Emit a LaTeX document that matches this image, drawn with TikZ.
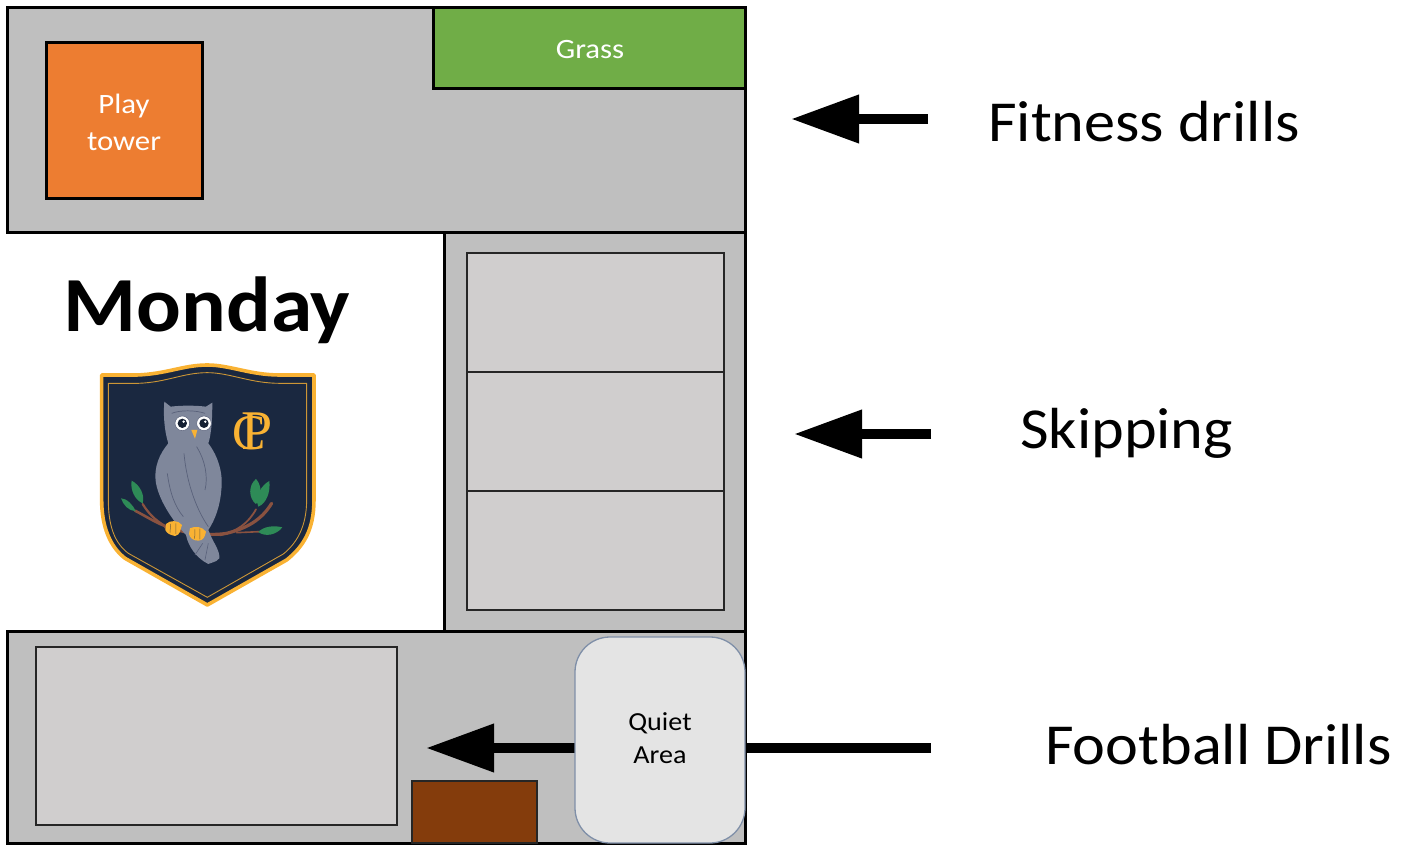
\documentclass[tikz,border=0pt]{standalone}
\usepackage{fontspec}
\setmainfont{Carlito}
\newfontfamily\wideface[FakeStretch=1.073]{Carlito}
\newfontfamily\wideboldface[FakeStretch=1.07]{Carlito Bold}
\newfontfamily\mapface[FakeStretch=1.1]{Carlito}
\newfontfamily\quietface[FakeStretch=1.08]{Carlito}
\newfontfamily\monoface{Liberation Serif}
\usetikzlibrary{arrows.meta}
\definecolor{yard}{HTML}{BFBFBF}
\definecolor{court}{HTML}{D0CECE}
\definecolor{grassc}{HTML}{70AD47}
\definecolor{towerc}{HTML}{ED7D31}
\definecolor{brownc}{HTML}{843C0C}
\definecolor{navy}{HTML}{1A2840}
\definecolor{gold}{HTML}{F9B233}
\definecolor{owlc}{HTML}{7F879B}
\definecolor{owld}{HTML}{59617A}
\definecolor{leaf}{HTML}{2E8B57}
\definecolor{twig}{HTML}{8A5240}
\definecolor{quietedge}{HTML}{7F8FA8}
\tikzset{
  x=1pt,y=-1pt,
  courtbox/.style={draw=black!85,line width=1.5pt,fill=court},
  callout/.style={font=\wideface\fontsize{58}{60}\selectfont,anchor=base west,inner sep=0pt},
  bigarrow/.style={line width=10.5pt,-{Triangle[length=68pt,width=46pt]}},
  maplabel/.style={font=\mapface\fontsize{28}{30}\selectfont,text=white,inner sep=0pt},
  quietlabel/.style={font=\quietface\fontsize{26}{28}\selectfont,text=black,inner sep=0pt},
}
\newcommand{\zbox}[6]{\node[#6,inner sep=0pt,outer sep=0pt,anchor=north west,minimum width=#4pt-#2pt,minimum height=#5pt-#3pt] (#1) at (#2,#3) {};}
\begin{document}
\begin{tikzpicture}
\useasboundingbox (0,0) rectangle (1412,845);
% yard zones
\zbox{top}{7}{8}{745}{232}{draw=black,line width=3pt,fill=yard}
\zbox{grass}{433}{8}{745}{89}{draw=black,line width=3pt,fill=grassc}
\zbox{tower}{46}{43}{202}{198}{draw=black,line width=3pt,fill=towerc}
\zbox{right}{444}{232}{745}{631}{draw=black,line width=3pt,fill=yard}
\zbox{courta}{467}{253}{724}{372}{courtbox}
\zbox{courtb}{467}{372}{724}{491}{courtbox}
\zbox{courtc}{467}{491}{724}{610}{courtbox}
\zbox{bottom}{7}{631}{745}{843}{draw=black,line width=3pt,fill=yard}
\zbox{pitch}{36}{647}{397}{825}{courtbox}
\zbox{shed}{412}{781}{537}{843}{draw=black!85,line width=1.5pt,fill=brownc}
% labels in map
\node[maplabel] (grasstext) at (590,50) {Grass};
\node[maplabel] (playtext) at (124,106) {Play};
\node[maplabel] (towertext) at (124,142) {tower};
\node[font=\wideboldface\fontsize{78}{80}\selectfont,inner sep=0pt,anchor=base] (monday) at (207,331) {Monday};
% callouts
\node[callout] (fitness) at (988,142) {Fitness drills};
\node[callout] (skipping) at (1020,448) {Skipping};
\node[callout] (football) at (1045,764) {Football Drills};
\coordinate (fitA) at (928,119);
\coordinate (fitB) at (791,119);
\coordinate (skipA) at (931,434);
\coordinate (skipB) at (794,434);
\coordinate (footA) at (931,748);
\coordinate (footB) at (426,748);
\draw[bigarrow] (fitA) -- (fitB);
\draw[bigarrow] (skipA) -- (skipB);
\draw[bigarrow] (footA) -- (footB);
% quiet area sits on the football arrow
\node[draw=quietedge,line width=1.3pt,fill=black!10.5,rounded corners=35pt,inner sep=0pt,outer sep=0pt,anchor=north west,minimum width=170pt,minimum height=206pt] (quiet) at (575,637) {};
\node[quietlabel] (quiettext) at (660,723) {Quiet};
\node[quietlabel] (areatext) at (660,755) {Area};
% school crest
\begin{scope}[shift={(80,350)},x=0.3333pt,y=-0.3333pt]
\path[fill=navy,draw=gold,line width=3.6pt,line join=round]
  (65,75) -- (170,75) .. controls (260,72) and (310,45) .. (382,45)
  .. controls (450,45) and (510,75) .. (600,75) -- (702,75) -- (702,450)
  .. controls (702,540) and (670,590) .. (620,630) -- (382,765) -- (135,625)
  .. controls (90,590) and (65,530) .. (65,450) -- cycle;
\path[draw=gold!80!navy,line width=0.9pt]
  (85,100) -- (175,100) .. controls (260,97) and (310,68) .. (382,68)
  .. controls (450,68) and (510,100) .. (600,100) -- (680,100) -- (680,450)
  .. controls (680,530) and (650,580) .. (610,612) -- (382,742) -- (145,610)
  .. controls (105,580) and (85,530) .. (85,450) -- cycle;
% branch
\path[draw=twig,line width=2.6pt,line cap=round] (165,482) .. controls (200,500) and (230,520) .. (265,532);
\path[draw=twig,line width=2.2pt,line cap=round] (188,462) .. controls (205,490) and (225,510) .. (255,528);
\path[draw=twig,line width=3.2pt,line cap=round] (255,530) .. controls (300,545) and (380,560) .. (440,550) .. controls (500,535) and (545,510) .. (575,460);
\path[draw=twig,line width=1.8pt,line cap=round] (420,556) .. controls (470,545) and (505,520) .. (528,478);
\path[draw=twig,line width=1.6pt,line cap=round] (470,548) -- (540,545);
% leaves
\path[fill=leaf] (155,392) .. controls (180,405) and (195,435) .. (188,460) .. controls (165,450) and (150,420) .. (155,392) -- cycle;
\path[fill=leaf] (123,445) .. controls (140,445) and (160,465) .. (167,484) .. controls (145,482) and (130,465) .. (123,445) -- cycle;
\path[fill=leaf] (528,387) .. controls (505,405) and (505,445) .. (528,462) .. controls (548,440) and (545,405) .. (528,387) -- cycle;
\path[fill=leaf] (568,393) .. controls (545,405) and (522,440) .. (535,470) .. controls (560,460) and (572,425) .. (568,393) -- cycle;
\path[fill=leaf] (607,532) .. controls (580,525) and (550,530) .. (535,546) .. controls (555,562) and (590,555) .. (607,532) -- cycle;
% owl
\path[fill=owlc] (253,155) -- (272,170) .. controls (305,166) and (345,166) .. (378,170) -- (397,158)
  .. controls (397,200) and (395,250) .. (385,280) .. controls (415,320) and (430,370) .. (424,420)
  .. controls (420,470) and (405,510) .. (385,540) .. controls (400,580) and (420,600) .. (418,625)
  .. controls (405,640) and (395,635) .. (385,642) .. controls (350,625) and (325,590) .. (318,555)
  .. controls (285,520) and (240,460) .. (228,400) .. controls (220,350) and (240,310) .. (265,280)
  .. controls (252,240) and (250,190) .. (253,155) -- cycle;
\path[draw=owld,line width=0.7pt] (312,310) .. controls (320,400) and (350,480) .. (385,530);
\path[draw=owld,line width=0.7pt] (350,290) .. controls (375,330) and (385,380) .. (375,420);
\path[draw=owld,line width=0.7pt] (262,370) .. controls (270,430) and (285,470) .. (310,500);
\path[draw=owld,line width=0.7pt] (275,190) .. controls (300,180) and (345,180) .. (375,190);
\path[draw=owld,line width=0.6pt] (345,615) -- (368,580);
\path[draw=owld,line width=0.6pt] (375,630) -- (385,580);
% eyes
\foreach \ex in {307,372}{
  \path[fill=white,draw=owld,line width=0.5pt] (\ex,220) circle[radius=22];
  \path[fill=navy!80!black] (\ex,220) circle[radius=14];
  \path[fill=white] (\ex+4,215) circle[radius=4];
}
\path[fill=gold] (334,240) -- (352,240) -- (345,266) -- cycle;
% talons
\path[fill=gold] (258,522) .. controls (270,510) and (295,510) .. (306,525) .. controls (300,540) and (302,555) .. (285,558) .. controls (270,555) and (260,550) .. (256,540) -- cycle;
\path[fill=gold] (330,535) .. controls (345,527) and (368,530) .. (378,545) .. controls (375,560) and (370,572) .. (355,572) .. controls (340,572) and (330,565) .. (327,552) -- cycle;
\path[draw=navy!60!gold,line width=0.5pt] (272,522) -- (270,548) (288,520) -- (288,552) (345,538) -- (344,566) (360,536) -- (360,568);
\end{scope}
\node[font=\monoface\fontsize{50}{50}\selectfont,text=gold,inner sep=0pt] (monoC) at (249,433) {C};
\node[font=\monoface\fontsize{56}{56}\selectfont,text=gold,inner sep=0pt] (monoP) at (257,431) {P};
\end{tikzpicture}
\end{document}
